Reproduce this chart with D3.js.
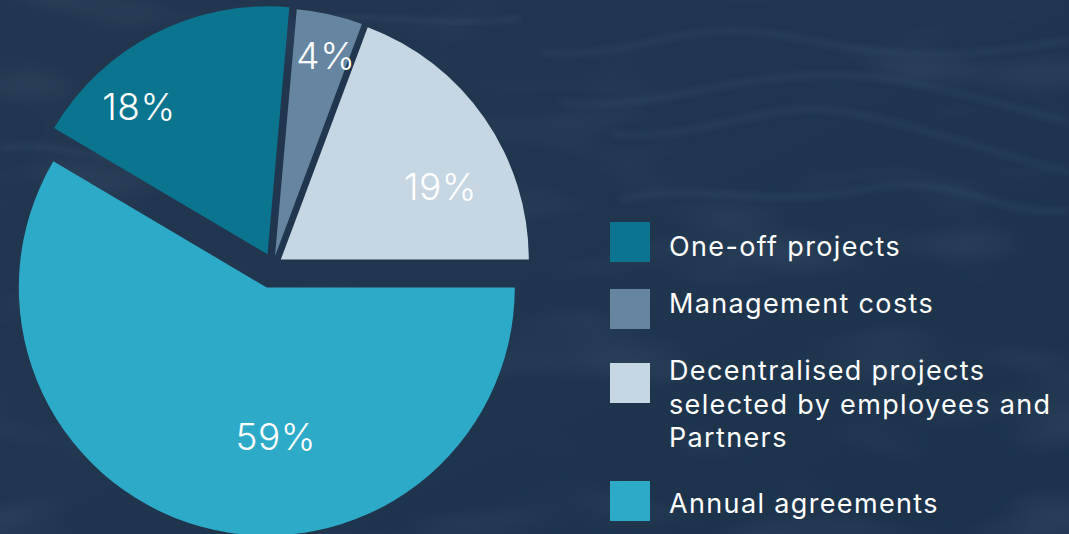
<!DOCTYPE html>
<html>
<head>
<meta charset="utf-8">
<script src="https://cdn.jsdelivr.net/npm/d3@7"></script>
<style>
  html, body { margin: 0; padding: 0; background: #21364f; overflow: hidden; }
  svg { display: block; }
</style>
</head>
<body>
<div id="wrapper"></div>
<script>
const categories = ["Annual agreements", "One-off projects", "Management costs", "Decentralised projects selected by employees and Partners"];
const shares = [58.5, 17.9, 4.3, 19.3];
const shareLabels = ["59%", "18%", "4%", "19%"];
const legendOrder = ["One-off projects", "Management costs", "Decentralised projects selected by employees and Partners", "Annual agreements"];
const legendLines = [["One-off projects"], ["Management costs"], ["Decentralised projects", "selected by employees and", "Partners"], ["Annual agreements"]];

const colours = {
    "Annual agreements": "#2eaac9",
    "One-off projects": "#0b7590",
    "Management costs": "#6585a0",
    "Decentralised projects selected by employees and Partners": "#c6d6e3"
};

const dimension = { width: 1069, height: 534 };
const pieLayout = {
    cx: 273, cy: 265, radius: 248,
    explode: [23.4, 12, 9, 9.5],
    // label placement: angle (deg, clockwise from top) and fraction of radius
    labelAngle: [176.6, 318.9, 14.2, 65.6],
    labelRadius: [0.604, 0.789, 0.836, 0.707]
};
const legendLayout = { x: 610, box: 40, textX: 669, boxY: [222, 289, 363, 481], baseY: [256, 313, 380, 513], lineH: 33.5 };

const svg = d3.select("#wrapper").append("svg")
    .attr("width", dimension.width)
    .attr("height", dimension.height);

// background
const defs = svg.append("defs");
const bg = defs.append("linearGradient").attr("id", "bg").attr("x1", 0).attr("y1", 0).attr("x2", 1).attr("y2", 1);
bg.append("stop").attr("offset", "0%").attr("stop-color", "#22374f");
bg.append("stop").attr("offset", "50%").attr("stop-color", "#20354e");
bg.append("stop").attr("offset", "100%").attr("stop-color", "#1c324b");
const blur = defs.append("filter").attr("id", "blur").attr("x", "-10%").attr("y", "-50%").attr("width", "120%").attr("height", "200%");
blur.append("feGaussianBlur").attr("stdDeviation", 3);
const noise = defs.append("filter").attr("id", "noise");
noise.append("feTurbulence").attr("type", "fractalNoise").attr("baseFrequency", "0.006 0.018").attr("numOctaves", 2).attr("seed", 7);
noise.append("feColorMatrix").attr("type", "matrix")
    .attr("values", "0 0 0 0 0.18  0 0 0 0 0.26  0 0 0 0 0.35  0 0 0 1 -0.5");

svg.append("rect").attr("width", dimension.width).attr("height", dimension.height).attr("fill", "url(#bg)");
svg.append("rect").attr("width", dimension.width).attr("height", dimension.height).attr("filter", "url(#noise)").attr("opacity", 0.35);

const streaks = [
    "M540,52 C620,62 680,22 760,32 S900,72 1069,40",
    "M560,102 C650,112 700,82 800,76 S950,92 1069,122",
    "M610,134 C700,142 760,102 830,110 S980,150 1069,172",
    "M0,148 C60,138 110,168 160,158",
    "M300,20 C380,10 440,30 520,18",
    "M620,200 C700,180 760,210 860,190 S1000,220 1069,210"
];
svg.append("g").selectAll("path").data(streaks).join("path")
    .attr("d", d => d)
    .attr("fill", "none")
    .attr("stroke", "#3d5773")
    .attr("stroke-width", 3.5)
    .attr("opacity", 0.45)
    .attr("filter", "url(#blur)");

// pie
const data = categories.map((c, i) => ({ name: c, value: shares[i], label: shareLabels[i], i: i }));
const pie = d3.pie()
    .sort(null)
    .value(d => d.value)
    .startAngle(Math.PI / 2)
    .endAngle(Math.PI / 2 + 2 * Math.PI);
const arc = d3.arc().innerRadius(0).outerRadius(pieLayout.radius);

const arcs = pie(data);
const bounded = svg.append("g").attr("transform", `translate(${pieLayout.cx},${pieLayout.cy})`);

const slice = bounded.selectAll("g.slice").data(arcs).join("g")
    .attr("class", "slice")
    .attr("transform", d => {
        const mid = (d.startAngle + d.endAngle) / 2;
        const e = pieLayout.explode[d.data.i];
        return `translate(${e * Math.sin(mid)},${-e * Math.cos(mid)})`;
    });

slice.append("path")
    .attr("d", arc)
    .attr("fill", d => colours[d.data.name]);

slice.append("text")
    .attr("x", d => pieLayout.radius * pieLayout.labelRadius[d.data.i] * Math.sin(pieLayout.labelAngle[d.data.i] * Math.PI / 180))
    .attr("y", d => -pieLayout.radius * pieLayout.labelRadius[d.data.i] * Math.cos(pieLayout.labelAngle[d.data.i] * Math.PI / 180))
    .attr("dy", "0.36em")
    .attr("text-anchor", "middle")
    .attr("fill", "#ffffff")
    .attr("font-family", "Inter, 'Open Sans', sans-serif")
    .attr("font-weight", 300)
    .attr("font-size", 37)
    .attr("letter-spacing", 0.5)
    .text(d => d.data.label);

// legend
const legend = svg.append("g");
const item = legend.selectAll("g").data(legendOrder).join("g");
item.append("rect")
    .attr("x", legendLayout.x)
    .attr("y", (d, i) => legendLayout.boxY[i])
    .attr("width", legendLayout.box)
    .attr("height", legendLayout.box)
    .attr("fill", d => colours[d]);
item.append("text")
    .attr("x", legendLayout.textX)
    .attr("y", (d, i) => legendLayout.baseY[i])
    .attr("fill", "#ffffff")
    .attr("font-family", "Inter, 'Open Sans', sans-serif")
    .attr("font-size", 27)
    .attr("letter-spacing", 1.35)
    .selectAll("tspan")
    .data((d, i) => legendLines[i])
    .join("tspan")
    .attr("x", legendLayout.textX)
    .attr("dy", (d, j) => j === 0 ? 0 : legendLayout.lineH)
    .text(d => d);
</script>
</body>
</html>
